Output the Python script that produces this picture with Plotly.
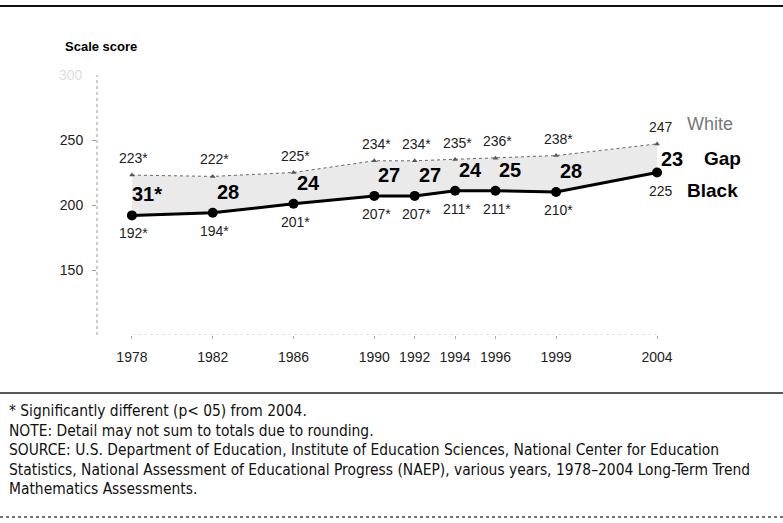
import plotly.graph_objects as go

years = [1978, 1982, 1986, 1990, 1992, 1994, 1996, 1999, 2004]
white = [223, 222, 225, 234, 234, 235, 236, 238, 247]
black = [192, 194, 201, 207, 207, 211, 211, 210, 225]
gap = [31, 28, 24, 27, 27, 24, 25, 28, 23]
significant = [True, True, True, True, True, True, True, True, False]
gap_significant = [True, False, False, False, False, False, False, False, False]
y_ticks = [150, 200, 250]

footer_lines = [
    "* Significantly different (p< 05) from 2004.",
    "NOTE: Detail may not sum to totals due to rounding.",
    "SOURCE: U.S. Department of Education, Institute of Education Sciences, National Center for Education",
    "Statistics, National Assessment of Educational Progress (NAEP), various years, 1978\u20132004 Long-Term Trend",
    "Mathematics Assessments.",
]

W, H = 783, 523
ML, MR, MT, MB = 97, 50, 75, 188
PW, PH = W - ML - MR, H - MT - MB

SANS = "Liberation Sans, Arial, sans-serif"
FOOT = "DejaVu Sans Condensed, DejaVu Sans, sans-serif"


def px_x(px):
    return (px - ML) / PW


def px_y(py):
    return (H - MB - py) / PH


def star(v, s):
    return f"{v}*" if s else f"{v}"


fig = go.Figure()

fig.add_trace(go.Scatter(
    x=years, y=white, mode="lines+markers",
    line=dict(color="#666666", width=1, dash="dot"),
    marker=dict(symbol="triangle-up", size=5, color="#555555"),
    hoverinfo="skip", showlegend=False,
))
fig.add_trace(go.Scatter(
    x=years, y=black, mode="lines+markers", fill="tonexty",
    fillcolor="#eaeaea",
    line=dict(color="black", width=3),
    marker=dict(symbol="circle", size=10, color="black"),
    hoverinfo="skip", showlegend=False,
))

last = len(years) - 1
for i, yr in enumerate(years):
    xs = 4 if i == last else 2
    fig.add_annotation(x=yr, y=white[i], text=star(white[i], significant[i]),
                       showarrow=False, xshift=xs, yshift=17,
                       font=dict(family=SANS, size=14, color="#222"))
    fig.add_annotation(x=yr, y=black[i], text=star(black[i], significant[i]),
                       showarrow=False, xshift=xs, yshift=-18,
                       font=dict(family=SANS, size=14, color="#222"))
    fig.add_annotation(x=yr, y=black[i], text=star(gap[i], gap_significant[i]),
                       showarrow=False,
                       xshift=15, yshift=14 if i == last else 21,
                       font=dict(family=SANS, size=20, color="black", weight="bold"))

# series names at the right end
fig.add_annotation(x=years[-1], y=white[-1], text="White", showarrow=False,
                   xanchor="left", xshift=28, yshift=20,
                   font=dict(family=SANS, size=18, color="#777"))
fig.add_annotation(x=years[-1], y=black[-1], text="Gap", showarrow=False,
                   xanchor="left", xshift=45, yshift=14,
                   font=dict(family=SANS, size=19, color="black", weight="bold"))
fig.add_annotation(x=years[-1], y=black[-1], text="Black", showarrow=False,
                   xanchor="left", xshift=28, yshift=-18,
                   font=dict(family=SANS, size=19, color="black", weight="bold"))

# axis title and faint top tick
fig.add_annotation(x=px_x(63), y=px_y(47), xref="paper", yref="paper", text="Scale score",
                   showarrow=False, xanchor="left", yanchor="middle",
                   font=dict(family=SANS, size=13, color="black", weight="bold"))
fig.add_annotation(x=0, y=300, xref="paper", yref="y", text="300", showarrow=False,
                   xanchor="right", yanchor="middle", xshift=-12,
                   font=dict(family=SANS, size=14, color="#dddddd"))

for k, line in enumerate(footer_lines):
    fig.add_annotation(x=px_x(7), y=px_y(411 + 19.5 * k), xref="paper", yref="paper",
                       text=line, showarrow=False, xanchor="left", yanchor="middle",
                       font=dict(family=FOOT, size=15.4, color="#111"))

shapes = [
    dict(type="line", xref="paper", yref="y", x0=0, x1=0, y0=100, y1=300,
         line=dict(color="#999", width=1, dash="dot")),
    dict(type="line", xref="x", yref="y", x0=years[0], x1=years[-1], y0=100, y1=100,
         line=dict(color="#cccccc", width=1, dash="dot")),
    dict(type="line", xref="paper", yref="paper", x0=px_x(0), x1=px_x(W),
         y0=px_y(6), y1=px_y(6), line=dict(color="#111", width=2)),
    dict(type="line", xref="paper", yref="paper", x0=px_x(0), x1=px_x(W),
         y0=px_y(393), y1=px_y(393), line=dict(color="#222", width=1.5)),
    dict(type="line", xref="paper", yref="paper", x0=px_x(0), x1=px_x(W),
         y0=px_y(517), y1=px_y(517), line=dict(color="#444", width=1.5, dash="dot")),
]

fig.update_layout(
    width=W, height=H,
    margin=dict(l=ML, r=MR, t=MT, b=MB),
    paper_bgcolor="white", plot_bgcolor="white",
    shapes=shapes,
    xaxis=dict(range=[1976.27, 2007.76], tickvals=years, ticktext=[str(y) for y in years],
               showgrid=False, zeroline=False, showline=False,
               ticks="outside", ticklen=3, tickcolor="#aaa", ticklabelstandoff=6,
               tickfont=dict(family=SANS, size=14, color="#222")),
    yaxis=dict(range=[100, 300], tickvals=y_ticks, showgrid=False, zeroline=False,
               showline=False, ticks="outside", ticklen=4, tickcolor="#999",
               ticklabelstandoff=6,
               tickfont=dict(family=SANS, size=14, color="#222")),
)

# drop the page's default body margin so the figure sits at the window corner
fig.write_html("out.html", config={"displayModeBar": False},
               post_script="document.body.style.margin = '0';")
